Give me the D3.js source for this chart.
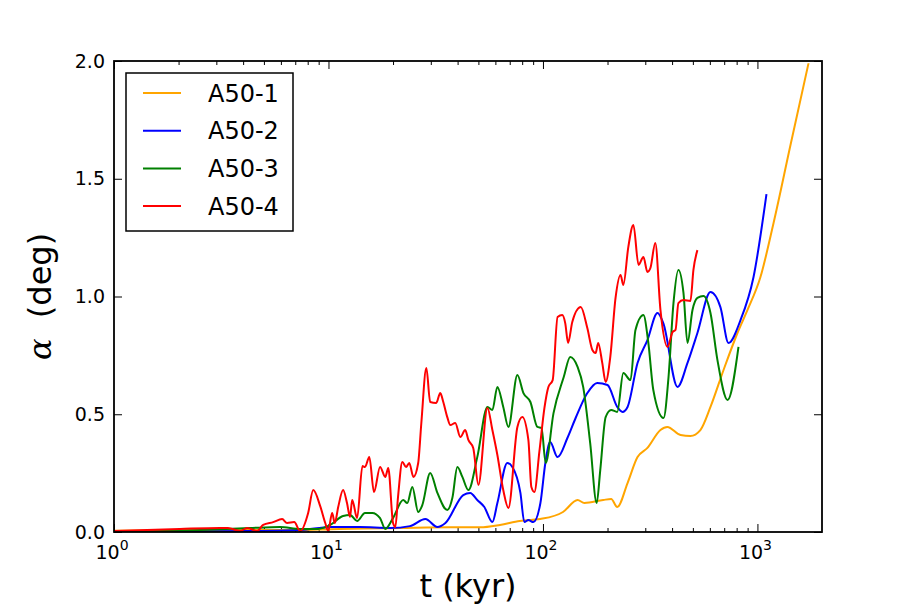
<!DOCTYPE html>
<html>
<head>
<meta charset="utf-8">
<script src="https://cdn.jsdelivr.net/npm/d3@7"></script>
<style>
  body { margin: 0; background: #fff; }
  text { font-family: "DejaVu Sans", sans-serif; fill: #000; }
</style>
</head>
<body>
<div id="chart"></div>
<script>
// series: [t (kyr), alpha (deg)]
let a501 = [[1,0.005],[2.5,0.008],[7.4,0.008],[10.2,0.012],[21.6,0.017],[37,0.02],[51,0.02],[63,0.03],
  [78,0.047],[97,0.055],[124,0.085],[145,0.136],[156,0.123],[191,0.136],[208,0.14],[222,0.106],
  [248,0.208],[276,0.318],[307,0.357],[353,0.433],[380,0.446],[438,0.412],[487,0.408],[542,0.433],
  [604,0.531],[695,0.688],[807,0.845],[899,0.943],[1033,1.083],[1189,1.312],[1426,1.643],[1730,1.99]];

let a502 = [[1,0.0],[4.3,0.004],[7.4,0.008],[10.2,0.021],[14,0.021],[19.4,0.017],[24,0.025],[28.3,0.055],
  [32.2,0.021],[35.1,0.038],[42.5,0.157],[45.8,0.166],[49.4,0.136],[53.3,0.106],[58.1,0.042],[61.3,0.123],
  [68.2,0.293],[72,0.276],[78.5,0.166],[81.9,0.042],[85.5,0.051],[90.2,0.042],[97.3,0.123],[102.6,0.293],
  [108,0.382],[117,0.318],[130,0.399],[142,0.484],[161,0.59],[179,0.633],[200,0.624],[222,0.531],
  [235,0.51],[248,0.531],[276,0.718],[307,0.815],[342,0.93],[364,0.887],[424,0.616],[472,0.718],
  [525,0.845],[604,1.019],[672,0.955],[733,0.803],[834,0.9],[959,1.083],[1102,1.435]];

let a503 = [[1,0.0],[2.52,0.008],[4.31,0.017],[5.95,0.021],[7.38,0.013],[8.95,0.013],[10.2,0.03],[11.7,0.068],
  [12.6,0.072],[13.6,0.047],[14.8,0.081],[16,0.081],[17.4,0.059],[18.4,0.013],[20,0.059],[22.3,0.136],
  [23.3,0.123],[24.6,0.191],[26.2,0.085],[27.4,0.115],[29.8,0.251],[32.2,0.166],[35.8,0.093],[37.8,0.144],
  [39.9,0.276],[42.1,0.234],[44.9,0.178],[49.4,0.318],[55.1,0.531],[58.1,0.518],[61.3,0.616],[65.3,0.531],
  [69,0.446],[76,0.667],[81.1,0.59],[87.4,0.552],[94.2,0.446],[98.4,0.442],[103,0.293],[112,0.505],
  [125,0.658],[134,0.743],[145,0.701],[154,0.616],[166,0.378],[178,0.123],[185,0.263],[196,0.488],
  [208,0.518],[222,0.51],[237,0.675],[256,0.645],[270,0.858],[294,0.921],[310,0.803],[327,0.603],
  [365,0.484],[385,0.658],[406,0.972],[428,1.113],[452,1.015],[472,0.803],[498,0.943],[525,0.994],
  [560,1.002],[604,0.93],[651,0.73],[726,0.561],[816,0.786]];

let a504 = [[1,0.004],[2.03,0.013],[3.12,0.017],[3.4,0.017],[3.87,0.004],[4.18,0.017],[4.65,0.004],[4.96,0.03],
  [5.52,0.042],[6.08,0.055],[6.41,0.038],[6.92,0.042],[7.38,0.004],[8.04,0.081],[8.49,0.178],[9.15,0.11],
  [9.66,0.038],[9.97,0.004],[10.4,0.081],[10.7,0.038],[11.1,0.106],[11.7,0.178],[12.2,0.123],[12.6,0.064],
  [12.9,0.136],[13.6,0.059],[14.4,0.28],[14.8,0.276],[15.5,0.318],[16.3,0.17],[17.4,0.276],[18.4,0.234],
  [19,0.272],[20,0.038],[20.5,0.021],[21.1,0.149],[22.1,0.297],[23,0.276],[23.8,0.293],[24.9,0.234],
  [26.2,0.293],[27.1,0.463],[28.6,0.696],[29.8,0.552],[31.8,0.548],[33.2,0.59],[34.3,0.552],[35.8,0.488],
  [37,0.454],[39,0.463],[41.2,0.403],[43.4,0.433],[44.9,0.391],[47.3,0.357],[50,0.2],[55.1,0.527],
  [58.1,0.433],[61.3,0.327],[65.3,0.178],[69,0.102],[76,0.446],[80.1,0.488],[85.5,0.391],[88.3,0.191],
  [91.2,0.17],[96.2,0.34],[101.6,0.527],[106,0.616],[111,0.645],[117,0.913],[123,0.921],[127,0.887],
  [131,0.803],[137,0.892],[150,0.955],[161,0.866],[170,0.773],[176,0.76],[181,0.803],[189,0.718],
  [196,0.637],[206,0.743],[218,0.994],[230,1.091],[237,1.049],[250,1.21],[264,1.304],[279,1.134],
  [294,1.168],[307,1.104],[317,1.121],[334,1.227],[353,0.943],[381,0.786],[402,0.849],[415,0.858],
  [428,0.972],[452,0.985],[487,0.981],[503,1.113],[525,1.197]];

let seriesNames = ["A50-1", "A50-2", "A50-3", "A50-4"];
let seriesColors = ["#ffa500", "#0000ff", "#008000", "#ff0000"];
let seriesData = [a501, a502, a503, a504];

let xMajor = [1, 10, 100, 1000];
let yTicks = [0, 0.5, 1.0, 1.5, 2.0];

// dimensions
let margin = {top: 61, right: 91, bottom: 77, left: 114},
    width = 913 - margin.left - margin.right,
    height = 609 - margin.top - margin.bottom;

let x = d3.scaleLog().domain([1, 2000]).range([0, width]);
let y = d3.scaleLinear().domain([0, 2]).range([height, 0]);

let svg = d3.select("#chart").append("svg")
    .attr("width", 913)
    .attr("height", 609)
  .append("g")
    .attr("transform", "translate(" + margin.left + "," + margin.top + ")");

svg.append("clipPath").attr("id", "clip")
  .append("rect").attr("width", width).attr("height", height);

// minor ticks for log axis
let xMinor = [];
[1, 10, 100, 1000].forEach(function(d) {
  for (let k = 2; k <= 9; k++) if (d * k < 2000) xMinor.push(d * k);
});

function styleAxis(g) {
  g.select(".domain").remove();
  g.selectAll(".tick line").attr("stroke", "#000").attr("stroke-width", 1);
}

// bottom
svg.append("g").attr("transform", "translate(0," + height + ")")
  .call(d3.axisBottom(x).tickValues(xMajor).tickSize(-8).tickFormat(""))
  .call(styleAxis);
svg.append("g").attr("transform", "translate(0," + height + ")")
  .call(d3.axisBottom(x).tickValues(xMinor).tickSize(-4).tickFormat(""))
  .call(styleAxis);
// top
svg.append("g")
  .call(d3.axisTop(x).tickValues(xMajor).tickSize(-8).tickFormat(""))
  .call(styleAxis);
svg.append("g")
  .call(d3.axisTop(x).tickValues(xMinor).tickSize(-4).tickFormat(""))
  .call(styleAxis);

// x tick labels 10^n
let xl = svg.append("g").selectAll("text")
    .data(xMajor)
  .enter().append("text")
    .attr("x", function(d) { return x(d) - 2; })
    .attr("y", height + 27)
    .attr("text-anchor", "middle")
    .style("font-size", "19px");
xl.append("tspan").text("10");
xl.append("tspan").attr("dy", -9).style("font-size", "14px")
  .text(function(d) { return Math.round(Math.log10(d)); });

// left / right
svg.append("g")
  .call(d3.axisLeft(y).tickValues(yTicks).tickSize(-8).tickPadding(9).tickFormat(d3.format(".1f")))
  .call(styleAxis)
  .selectAll("text").style("font-size", "19px").attr("font-family", "DejaVu Sans");
svg.append("g").attr("transform", "translate(" + width + ",0)")
  .call(d3.axisRight(y).tickValues(yTicks).tickSize(-8).tickFormat(""))
  .call(styleAxis);

// lines
let line = d3.line()
    .curve(d3.curveMonotoneX)
    .x(function(d) { return x(d[0]); })
    .y(function(d) { return y(d[1]); });

svg.append("g").attr("clip-path", "url(#clip)")
  .selectAll("path")
    .data(seriesData)
  .enter().append("path")
    .attr("d", line)
    .attr("fill", "none")
    .attr("stroke", function(d, i) { return seriesColors[i]; })
    .attr("stroke-width", 2)
    .attr("stroke-linejoin", "round");

// frame
svg.append("rect")
    .attr("width", width).attr("height", height)
    .attr("fill", "none").attr("stroke", "#000").attr("stroke-width", 1.8);

// legend
let legend = svg.append("g").attr("transform", "translate(12,12)");
legend.append("rect")
    .attr("width", 167).attr("height", 158)
    .attr("fill", "#fff").attr("stroke", "#000").attr("stroke-width", 1.5);
let items = legend.selectAll(".item")
    .data(seriesNames)
  .enter().append("g")
    .attr("class", "item")
    .attr("transform", function(d, i) { return "translate(0," + (20 + i * 37.7) + ")"; });
items.append("line")
    .attr("x1", 17).attr("x2", 55)
    .attr("stroke", function(d, i) { return seriesColors[i]; })
    .attr("stroke-width", 2);
items.append("text")
    .attr("x", 82).attr("dy", "0.36em")
    .style("font-size", "24px")
    .text(function(d) { return d; });

// axis labels
svg.append("text")
    .attr("x", width / 2).attr("y", height + 65)
    .attr("text-anchor", "middle")
    .style("font-size", "32px")
    .text("t (kyr)");

let yl = svg.append("text")
    .attr("transform", "translate(-63," + (height / 2) + ") rotate(-90)")
    .attr("text-anchor", "middle")
    .style("font-size", "32px");
yl.append("tspan").style("font-family", "DejaVu Serif").style("font-style", "italic").text("\u03b1");
yl.append("tspan").text("\u00a0\u00a0(deg)");
</script>
</body>
</html>
